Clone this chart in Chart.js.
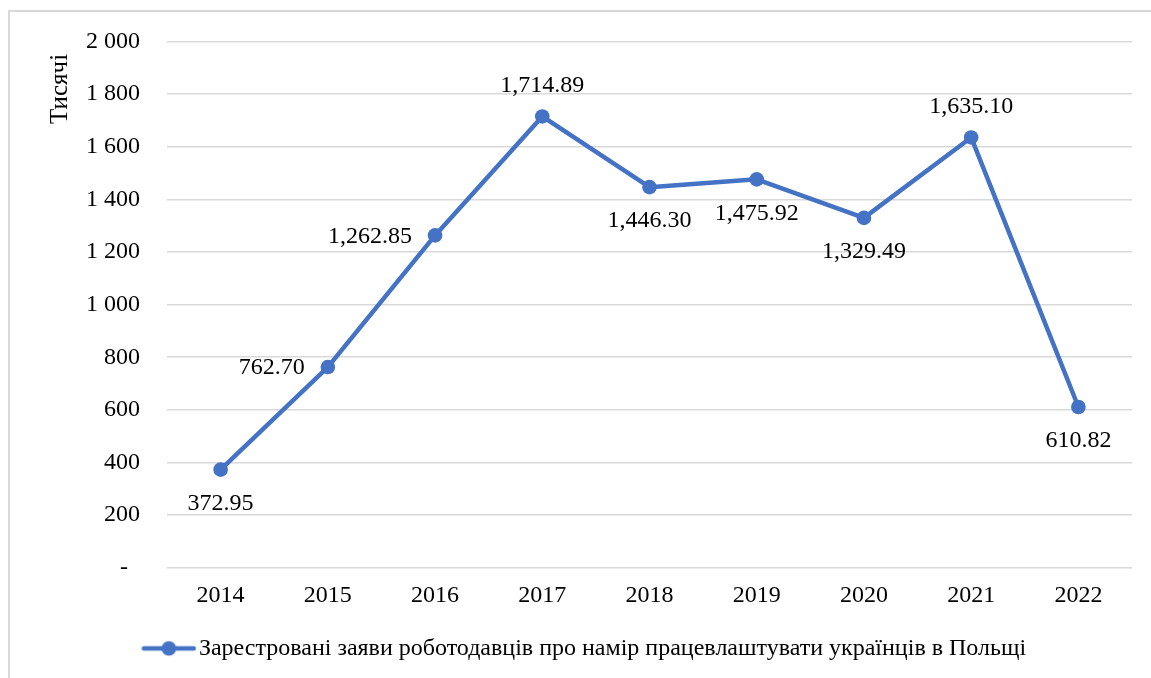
<!DOCTYPE html>
<html><head><meta charset="utf-8">
<script src="https://cdn.jsdelivr.net/npm/chart.js@4.4.1/dist/chart.umd.min.js"></script>
<style>html,body{margin:0;padding:0;background:#fff;overflow:hidden}</style>
</head><body>
<canvas id="c" width="1151" height="678"></canvas>
<script>
const years = ['2014', '2015', '2016', '2017', '2018', '2019', '2020', '2021', '2022'];
const applications = [372.95, 762.70, 1262.85, 1714.89, 1446.30, 1475.92, 1329.49, 1635.10, 610.82];
const seriesName = 'Зарестровані заяви роботодавців про намір працевлаштувати українців в Польщі';
const axisTitle = 'Тисячі';
const yMin = 0, yMax = 2000, yStep = 200;
const zeroTickLabel = '-';

// label placement (style, not data)
const labelPlacement = ['below', 'left', 'left', 'above', 'below', 'below', 'below', 'above', 'below'];

const BLUE = '#4472C4';
const GRID = '#D9D9D9';
const FONT = "'Liberation Serif', 'Times New Roman', serif";
const FS = 24;

function fmtTick(v) {
  if (v === 0) return zeroTickLabel + '  ';
  return String(v).replace(/\B(?=(\d{3})+(?!\d))/g, ' ');
}
function fmtLabel(v) {
  return v.toLocaleString('en-US', {minimumFractionDigits: 2, maximumFractionDigits: 2});
}

function legendIcon() {
  const c = document.createElement('canvas');
  c.width = 59; c.height = 18;
  const g = c.getContext('2d');
  g.strokeStyle = BLUE; g.lineWidth = 4.5; g.lineCap = 'round';
  g.beginPath(); g.moveTo(6.5, 9); g.lineTo(56.5, 9); g.stroke();
  g.fillStyle = BLUE;
  g.beginPath(); g.arc(31.5, 9, 7.3, 0, Math.PI * 2); g.fill();
  return c;
}
const icon = legendIcon();

const framePlugin = {
  id: 'frame',
  beforeDraw(chart) {
    const ctx = chart.ctx;
    ctx.save();
    ctx.fillStyle = '#fff';
    ctx.fillRect(0, 0, chart.width, chart.height);
    ctx.strokeStyle = GRID; ctx.lineWidth = 2;
    ctx.strokeRect(9, 11, 1400, 1000);
    ctx.restore();
  }
};

const dataLabelPlugin = {
  id: 'dataLabels',
  afterDatasetsDraw(chart) {
    const ctx = chart.ctx;
    const meta = chart.getDatasetMeta(0);
    const vals = chart.data.datasets[0].data;
    ctx.save();
    ctx.font = FS + 'px ' + FONT;
    ctx.fillStyle = '#000';
    ctx.textBaseline = 'middle';
    meta.data.forEach((pt, i) => {
      let x = pt.x, y = pt.y;
      const p = labelPlacement[i];
      if (p === 'above') { ctx.textAlign = 'center'; y -= 31; }
      else if (p === 'below') { ctx.textAlign = 'center'; y += 34; }
      else { ctx.textAlign = 'right'; x -= 23; y += 1; }
      ctx.fillText(fmtLabel(vals[i]), x, y);
    });
    ctx.restore();
  }
};

new Chart(document.getElementById('c'), {
  type: 'line',
  data: {
    labels: years,
    datasets: [{
      label: seriesName,
      data: applications,
      borderColor: BLUE,
      backgroundColor: BLUE,
      borderWidth: 4.5,
      borderCapStyle: 'round',
      borderJoinStyle: 'round',
      pointRadius: 7.3,
      pointBackgroundColor: BLUE,
      pointBorderWidth: 0,
      tension: 0,
      fill: false
    }]
  },
  options: {
    responsive: false,
    devicePixelRatio: 1,
    animation: false,
    events: [],
    layout: {padding: {left: 41, right: 19, top: 27, bottom: 7.6}},
    scales: {
      x: {
        offset: true,
        afterFit(scale) { scale.height = 46.4; },
        grid: {display: false, drawTicks: false},
        border: {display: false},
        ticks: {color: '#000', font: {family: FONT, size: FS}, padding: 13.6, maxRotation: 0}
      },
      y: {
        min: yMin, max: yMax,
        afterFit(scale) { scale.width = 167 - 41; },
        grid: {color: GRID, lineWidth: 1.5, drawTicks: false},
        border: {display: false},
        ticks: {stepSize: yStep, color: '#000', font: {family: FONT, size: FS}, padding: 27, callback: v => fmtTick(v)},
        title: {display: true, text: axisTitle + '  ', align: 'end', color: '#000', font: {family: FONT, size: 25}, padding: {top: 4, bottom: 12}}
      }
    },
    plugins: {
      tooltip: {enabled: false},
      legend: {
        position: 'bottom',
        labels: {
          usePointStyle: true,
          pointStyleWidth: 40,
          padding: 22.2,
          color: '#000',
          font: {family: FONT, size: FS},
          generateLabels: () => [{text: seriesName, pointStyle: icon, fillStyle: BLUE, strokeStyle: BLUE, lineWidth: 0, hidden: false, datasetIndex: 0}]
        }
      }
    }
  },
  plugins: [framePlugin, dataLabelPlugin]
});
</script>
</body></html>
